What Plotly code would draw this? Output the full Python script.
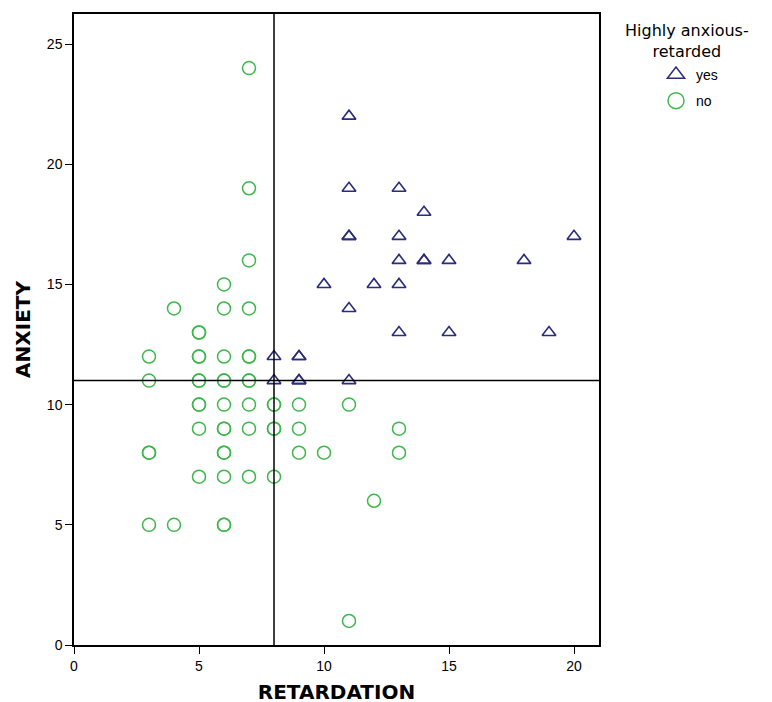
import plotly.graph_objects as go

# "no" group (green circles): retardation, anxiety
no_retard = [7, 7, 7, 6, 4, 6, 7, 5, 5, 3, 5, 5, 6, 7, 7, 3, 5, 5, 6, 6, 7, 7,
             5, 5, 6, 7, 8, 8, 9, 11, 5, 6, 6, 7, 8, 8, 9, 13, 3, 3, 6, 6, 9, 10, 13,
             5, 6, 7, 8, 12, 3, 4, 6, 6, 11]
no_anx = [24, 19, 16, 15, 14, 14, 14, 13, 13, 12, 12, 12, 12, 12, 12, 11, 11, 11, 11, 11, 11, 11,
          10, 10, 10, 10, 10, 10, 10, 10, 9, 9, 9, 9, 9, 9, 9, 9, 8, 8, 8, 8, 8, 8, 8,
          7, 7, 7, 7, 6, 5, 5, 5, 5, 1]

# "yes" group (navy triangles)
yes_retard = [11, 11, 13, 14, 11, 11, 13, 20, 13, 14, 14, 15, 18, 10, 12, 13, 11, 13, 15, 19,
              8, 9, 9, 8, 9, 9, 11]
yes_anx = [22, 19, 19, 18, 17, 17, 17, 17, 16, 16, 16, 16, 16, 15, 15, 15, 14, 13, 13, 13,
           12, 12, 12, 11, 11, 11, 11]

ref_x = 8
ref_y = 11
x_ticks = [0, 5, 10, 15, 20]
y_ticks = [0, 5, 10, 15, 20, 25]

green = "#3db84a"
navy = "#2b2d7c"
FONT = "Liberation Sans, Arial"

ML, MR, MT, MB = 66, 181, 4, 65
W, H = 772, 702
PW, PH = W - ML - MR, H - MT - MB

fig = go.Figure()
fig.add_trace(go.Scatter(x=yes_retard, y=yes_anx, mode="markers", name="yes",
                         marker=dict(symbol="triangle-up-open", size=12, color=navy,
                                     line=dict(width=1.6, color=navy)),
                         showlegend=False))
fig.add_trace(go.Scatter(x=no_retard, y=no_anx, mode="markers", name="no",
                         marker=dict(symbol="circle-open", size=13, color=green,
                                     line=dict(width=1.5, color=green)),
                         showlegend=False))
# legend entries with larger symbols
fig.add_trace(go.Scatter(x=[None], y=[None], mode="markers", name="yes", legendgroup="a",
                         marker=dict(symbol="triangle-up-open", size=15, color=navy,
                                     line=dict(width=1.5, color=navy))))
fig.add_trace(go.Scatter(x=[None], y=[None], mode="markers", name="no", legendgroup="b",
                         marker=dict(symbol="circle-open", size=16, color=green,
                                     line=dict(width=1.5, color=green))))

fig.add_vline(x=ref_x, line=dict(color="black", width=1.5))
fig.add_hline(y=ref_y, line=dict(color="black", width=1.5))

axis_common = dict(showgrid=False, zeroline=False, showline=True, linecolor="black",
                   linewidth=1.5, mirror=True, ticks="outside", ticklen=7,
                   tickcolor="black", tickwidth=1.2,
                   tickfont=dict(family=FONT, size=14, color="black"))

fig.update_xaxes(range=[0, 21], tickvals=x_ticks,
                 title=dict(text="<b>RETARDATION</b>", standoff=12,
                            font=dict(family="DejaVu Sans", size=20, color="black")),
                 **axis_common)
fig.update_yaxes(range=[0, 26.25], tickvals=y_ticks,
                 title=dict(text="<b>ANXIETY</b>", standoff=11,
                            font=dict(family="DejaVu Sans", size=20, color="black")),
                 **axis_common)

def px_to_paper_x(sx):
    return (sx - 8 - ML) / PW

def px_to_paper_y(sy):
    return 1 - (sy - 8 - MT) / PH

fig.add_annotation(text="Highly anxious-<br>retarded", xref="paper", yref="paper",
                   x=px_to_paper_x(687), y=px_to_paper_y(39), xanchor="center", yanchor="middle",
                   align="center", showarrow=False,
                   font=dict(family="DejaVu Sans", size=16, color="black"))

fig.update_layout(
    width=W, height=H,
    margin=dict(l=ML, r=MR, t=MT, b=MB),
    plot_bgcolor="white", paper_bgcolor="white",
    legend=dict(x=px_to_paper_x(656), y=px_to_paper_y(57), xanchor="left", yanchor="top",
                font=dict(family=FONT, size=14, color="black"),
                bgcolor="rgba(0,0,0,0)", itemwidth=30, tracegroupgap=5),
)

fig.write_html("out.html")
